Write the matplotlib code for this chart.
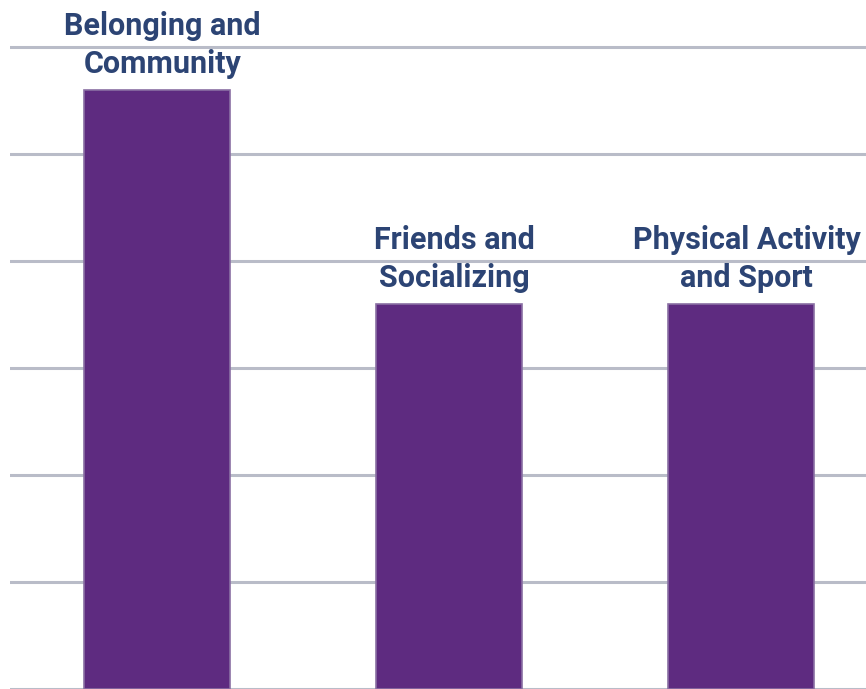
import matplotlib
matplotlib.use('Agg')
import matplotlib.pyplot as plt

categories = ['Belonging and\nCommunity', 'Friends and\nSocializing', 'Physical Activity\nand Sport']
values = [5.6, 3.6, 3.6]
grid_ticks = [0, 1, 2, 3, 4, 5, 6]

bar_color = '#5e2b80'
text_color = '#2c4474'
grid_color = '#b9bcc8'

fig = plt.figure(figsize=(8.66, 6.89), dpi=100)
ax = fig.add_axes([10 / 866, 0, 856 / 866, 1])

x = range(len(categories))
ax.bar(x, values, width=0.5, color=bar_color, edgecolor='#8a6fa3', linewidth=1.2, zorder=2)

for tick in grid_ticks:
    ax.axhline(tick, color=grid_color, linewidth=2.2, zorder=1)

for i, (label, val) in enumerate(zip(categories, values)):
    ax.annotate(label, xy=(i, val), xytext=(4, 8), textcoords='offset points',
                ha='center', va='bottom', fontsize=22, fontweight='bold',
                family='Roboto', color=text_color, linespacing=1.32, zorder=3)

ax.set_xlim(-0.503, 2.428)
ax.set_ylim(0, 6.44)
ax.axis('off')

plt.savefig('out.png', dpi=100)
